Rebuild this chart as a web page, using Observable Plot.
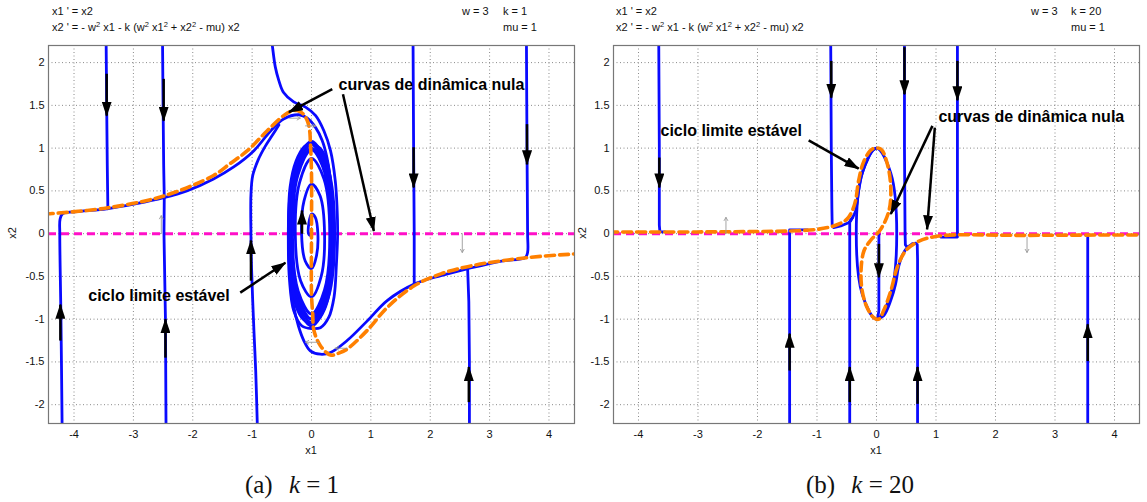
<!DOCTYPE html>
<html><head><meta charset="utf-8">
<script src="https://cdn.jsdelivr.net/npm/d3@7"></script>
<script src="https://cdn.jsdelivr.net/npm/@observablehq/plot@0.6"></script>
<style>
body{margin:0;background:#fff;}
#root{position:relative;width:1147px;height:502px;overflow:hidden;font-family:"Liberation Sans",Arial,sans-serif;color:#111;}
.t{position:absolute;font-size:11px;line-height:13px;white-space:nowrap;}
.t sup{font-size:7.5px;line-height:0;vertical-align:4px;}
.ax{position:absolute;font-size:11px;line-height:13px;white-space:nowrap;}
.rot{transform:translate(-50%,-50%) rotate(-90deg);}
.cap{position:absolute;font-family:"Liberation Serif","DejaVu Serif",serif;font-size:25px;white-space:nowrap;transform:translateX(-50%);}
.cap i{margin-left:10px;}
#pa,#pb{position:absolute;top:40px;}
#pa{left:0}
#pb{left:580px}
svg{overflow:visible}
</style></head><body><div id="root">
<div class="t" style="left:52px;top:5px">x1 ' = x2</div>
<div class="t" style="left:52px;top:21px">x2 ' = - w<sup>2</sup> x1 - k (w<sup>2</sup> x1<sup>2</sup> + x2<sup>2</sup> - mu) x2</div>
<div class="t" style="left:462px;top:5px">w = 3</div>
<div class="t" style="left:503px;top:5px">k = 1</div>
<div class="t" style="left:503px;top:21px">mu = 1</div>
<div class="t" style="left:616px;top:5px">x1 ' = x2</div>
<div class="t" style="left:616px;top:21px">x2 ' = - w<sup>2</sup> x1 - k (w<sup>2</sup> x1<sup>2</sup> + x2<sup>2</sup> - mu) x2</div>
<div class="t" style="left:1031px;top:5px">w = 3</div>
<div class="t" style="left:1071px;top:5px">k = 20</div>
<div class="t" style="left:1071px;top:21px">mu = 1</div>
<div id="pa"></div>
<div id="pb"></div>
<div class="ax" style="left:311px;top:444px;transform:translateX(-50%)">x1</div>
<div class="ax" style="left:876px;top:444px;transform:translateX(-50%)">x1</div>
<div class="ax rot" style="left:12px;top:233px;position:absolute">x2</div>
<div class="ax rot" style="left:582px;top:233px;position:absolute">x2</div>
<div class="cap" style="left:292px;top:471px">(a) <i>k</i> = 1</div>
<div class="cap" style="left:860px;top:471px">(b) <i>k</i> = 20</div>
</div>
<script>
// ---------- ticks ----------
const X_TICKS = [-4, -3, -2, -1, 0, 1, 2, 3, 4];
const Y_TICKS = [-2, -1.5, -1, -0.5, 0, 0.5, 1, 1.5, 2];

// ---------- panel (a): k = 1 ----------
const A_left1 = [[-3.46,2.3],[-3.45,1.5],[-3.44,0.8],[-3.43,0.29]];
const A_left2 = [[-2.51,2.3],[-2.50,1.5],[-2.49,0.8],[-2.48,0.42]];
const A_left2b = [[-2.45,-2.3],[-2.46,-1.0],[-2.485,0.0],[-2.48,0.42]];
const A_mid1 = [[1.71,2.3],[1.72,1.0],[1.73,0.0],[1.73,-0.59]];
const A_right2 = [[2.66,-2.3],[2.66,-1.5],[2.65,-0.8],[2.63,-0.41]];
const A_manifoldUp = [[-4.20,-2.3],[-4.22,-1.0],[-4.24,0.0],[-4.235,0.17],[-4.19,0.235],[-3.9,0.26],[-3.45,0.29],[-2.95,0.35],[-2.49,0.42],[-2.10,0.50],[-1.65,0.64],[-1.31,0.78],[-0.97,0.97],[-0.69,1.20],[-0.47,1.34],[-0.21,1.39],[-0.07,1.35],[0.07,1.24],[0.18,1.09],[0.26,0.89],[0.33,0.55],[0.36,0.0],[0.33,-0.55],[0.24,-0.85],[0.12,-1.0],[0.0,-1.05],[-0.14,-1.0],[-0.26,-0.85],[-0.34,-0.5],[-0.36,0.0]];
const A_fromBottom = [[-0.91,-2.3],[-0.94,-1.6],[-0.97,-1.13],[-1.01,-0.4],[-1.02,0.0],[-1.02,0.45],[-0.99,0.68],[-0.90,0.86],[-0.78,1.02],[-0.66,1.15],[-0.55,1.27]];
const A_fromTop = [[-0.68,2.3],[-0.66,2.2],[-0.61,1.95],[-0.55,1.79],[-0.47,1.65],[-0.30,1.54],[-0.10,1.48],[0.07,1.38],[0.21,1.20],[0.32,0.97],[0.40,0.62],[0.43,0.31],[0.44,0.0],[0.42,-0.35],[0.38,-0.74],[0.29,-0.98],[0.15,-1.10],[0.01,-1.11],[-0.16,-1.08],[-0.30,-0.90],[-0.37,-0.55],[-0.39,0.0],[-0.36,0.55],[-0.26,0.85],[-0.12,1.02],[0.02,1.07]];
const A_manifoldDown = [[3.62,2.3],[3.63,1.0],[3.64,0.0],[3.64,-0.22],[3.60,-0.28],[3.2,-0.32],[2.63,-0.41],[2.18,-0.49],[1.73,-0.59],[1.28,-0.78],[0.94,-1.02],[0.60,-1.25],[0.32,-1.39],[0.15,-1.41],[-0.02,-1.37],[-0.13,-1.25],[-0.22,-1.08],[-0.30,-0.85],[-0.36,-0.5],[-0.38,0.0],[-0.34,0.55],[-0.24,0.85],[-0.12,1.0],[0.0,1.05],[0.14,1.0],[0.26,0.85],[0.34,0.5],[0.36,0.0]];
const A_spiral = [[0.0,-0.02],[-0.03,-0.02],[-0.05,0.0],[-0.045,0.12],[0.0,0.23],[0.064,0.19],[0.107,0.0],[0.085,-0.255],[0.0,-0.41],[-0.106,-0.32],[-0.167,0.0],[-0.127,0.38],[0.0,0.58],[0.146,0.44],[0.22,0.0],[0.165,-0.495],[0.0,-0.74],[-0.184,-0.55],[-0.273,0.0],[-0.20,0.60],[0.0,0.88],[0.212,0.636],[0.307,0.0],[0.219,-0.658],[0.0,-0.94],[-0.224,-0.672],[-0.32,0.0],[-0.229,0.686],[0.0,0.98],[0.23,0.7],[0.325,0.0],[0.23,-0.7],[0.0,-0.99]];
const A_cycle1 = [[0,1.0],[0.237,0.707],[0.335,0],[0.237,-0.707],[0,-1.0],[-0.237,-0.707],[-0.335,0],[-0.237,0.707]];
const A_cycle2 = [[0,1.04],[0.255,0.735],[0.36,0],[0.255,-0.735],[0,-1.04],[-0.255,-0.735],[-0.36,0],[-0.255,0.735]];
const A_cycle3 = [[0,1.08],[0.276,0.764],[0.39,0],[0.276,-0.764],[0,-1.08],[-0.276,-0.764],[-0.39,0],[-0.276,0.764]];
const A_nullcline = [[-4.5,0.23],[-4.37,0.235],[-3.45,0.30],[-2.49,0.44],[-1.65,0.68],[-1.37,0.82],[-1.08,0.97],[-0.75,1.20],[-0.47,1.38],[-0.35,1.43],[-0.24,1.44],[-0.14,1.40],[-0.07,1.32],[-0.03,1.20],[-0.02,1.09],[0,0.7],[0,0],[0,-0.7],[0.02,-0.94],[0.04,-1.13],[0.15,-1.31],[0.32,-1.42],[0.45,-1.40],[0.60,-1.35],[0.94,-1.13],[1.28,-0.86],[1.73,-0.61],[2.18,-0.47],[2.74,-0.37],[3.64,-0.28],[4.37,-0.24],[4.5,-0.235]];
const A_arrows = [[-3.45,1.87,-3.45,1.38],[-2.49,1.81,-2.49,1.32],[1.72,1.01,1.72,0.54],[3.63,1.28,3.63,0.81],[-4.23,-1.25,-4.23,-0.83],[-2.46,-1.45,-2.46,-1.0],[-1.02,-0.55,-1.02,-0.08],[2.65,-1.97,2.65,-1.56],[-0.16,0.0,-0.16,0.27]];
const A_grey = [[-2.53,0,-2.53,0.21],[2.54,0,2.54,-0.22],[-0.37,1.35,-0.19,1.35],[-0.1,1.26,0.07,1.26],[0.12,-1.27,-0.1,-1.27],[0.6,-1.34,0.4,-1.34]];
const A_labels = [["curvas de dinâmica nula",0.455,1.74],["ciclo limite estável",-3.76,-0.73]];
const A_labelArrows = [[0.35,1.69,-0.38,1.42],[0.53,1.63,1.05,0.03],[-1.2,-0.69,-0.44,-0.34]];

// ---------- panel (b): k = 20 ----------
const B_t1 = [[-3.66,2.3],[-3.65,1.0],[-3.65,0.1],[-3.64,0.02],[-3.56,0.02]];
const B_t2 = [[-0.77,2.3],[-0.76,1.0],[-0.75,0.3],[-0.745,0.1],[-0.72,0.07],[-0.60,0.09],[-0.46,0.13],[-0.40,0.19]];
const B_t3 = [[0.47,2.3],[0.47,1.0],[0.48,0.0],[0.485,-0.13],[0.52,-0.16]];
const B_t4 = [[1.36,2.3],[1.36,1.0],[1.36,0.1],[1.36,-0.04],[1.08,-0.04]];
const B_t5 = [[0.69,-2.3],[0.69,-1.0],[0.69,-0.3],[0.685,-0.13],[0.66,-0.11],[0.60,-0.12]];
const B_t6 = [[-0.45,-2.3],[-0.45,-1.0],[-0.45,0.0],[-0.45,0.13],[-0.43,0.16]];
const B_t7 = [[-1.46,-2.3],[-1.46,-1.0],[-1.46,0.0],[-1.46,0.045],[-1.16,0.045]];
const B_t8 = [[3.55,-2.3],[3.55,-1.0],[3.55,-0.03],[3.52,-0.02]];
const B_t9 = [[0.04,0.0],[0.04,-0.5],[0.04,-0.9],[0.02,-0.99]];
const B_slideUp = [[-0.46,0.13],[-0.40,0.19],[-0.35,0.27],[-0.30,0.5],[-0.25,0.68],[-0.18,0.82],[-0.07,0.97],[0.0,1.0]];
const B_slideDown = [[0.60,-0.12],[0.52,-0.16],[0.43,-0.26],[0.37,-0.39],[0.32,-0.59],[0.24,-0.78],[0.12,-0.96],[0.0,-1.0]];
const B_cycle = [[0,1.0],[0.24,0.707],[0.34,0],[0.24,-0.707],[0,-1.0],[-0.24,-0.707],[-0.34,0],[-0.24,0.707]];
const B_nullcline = [[-4.5,0.02],[-3.0,0.02],[-2.0,0.025],[-1.5,0.03],[-1.0,0.05],[-0.72,0.09],[-0.55,0.14],[-0.47,0.19],[-0.40,0.28],[-0.35,0.39],[-0.30,0.62],[-0.21,0.85],[-0.07,0.99],[0.07,0.99],[0.18,0.82],[0.24,0.54],[0.21,0.27],[0.07,0.05],[-0.10,-0.08],[-0.21,-0.2],[-0.26,-0.43],[-0.24,-0.67],[-0.16,-0.86],[-0.05,-0.98],[0.04,-1.0],[0.12,-0.9],[0.24,-0.67],[0.35,-0.39],[0.49,-0.2],[0.68,-0.1],[1.02,-0.03],[2.5,-0.02],[4.5,-0.015]];
const B_arrows = [[-3.65,0.89,-3.65,0.54],[-0.76,2.02,-0.76,1.59],[0.47,2.18,0.47,1.63],[1.36,2.02,1.36,1.56],[0.04,-0.12,0.04,-0.51],[-0.45,-1.97,-0.45,-1.56],[-1.46,-1.60,-1.46,-1.17],[0.69,-1.99,0.69,-1.56],[3.55,-1.49,3.55,-1.06]];
const B_grey = [[-2.53,0,-2.53,0.19],[2.53,-0.04,2.53,-0.22]];
const B_labels = [["ciclo limite estável",-3.63,1.20],["curvas de dinâmica nula",1.04,1.36]];
const B_labelArrows = [[-1.14,1.09,-0.30,0.76],[0.94,1.26,0.24,0.23],[0.98,1.24,0.85,0.05]];

// ---------- styling ----------
const BLUE = "#0a0aff", ORANGE = "#ff8000", MAGENTA = "#ff10c8";
const SVGNS = "http://www.w3.org/2000/svg";
function headMarker(color, context) {
  const doc = (context && context.document) || document;
  const m = doc.createElementNS(SVGNS, "marker");
  m.setAttribute("viewBox", "-14 -5 15 10");
  m.setAttribute("markerWidth", "15");
  m.setAttribute("markerHeight", "10");
  m.setAttribute("markerUnits", "userSpaceOnUse");
  m.setAttribute("orient", "auto");
  m.setAttribute("refX", "0");
  m.setAttribute("refY", "0");
  const p = doc.createElementNS(SVGNS, "path");
  p.setAttribute("d", "M-14,-5L1,0L-14,5Z");
  p.setAttribute("fill", color);
  p.setAttribute("stroke", "none");
  m.appendChild(p);
  return m;
}
const rows = (list) => list.flatMap((pts, i) => pts.map(([x, y]) => ({x, y, id: i})));
const segs = (list) => list.map(([x1, y1, x2, y2]) => ({x1, y1, x2, y2}));

function panel({xDomain, width, marginLeft, marginRight, smooth, sharp, loops, nullcline, arrows, grey, labels, labelArrows}) {
  return Plot.plot({
    width, height: 420, marginTop: 5, marginBottom: 37, marginLeft, marginRight,
    x: {domain: xDomain}, y: {domain: [-2.22, 2.2]},
    style: {fontFamily: "Liberation Sans, Arial, sans-serif", fontSize: "11px", color: "#111", background: "transparent", overflow: "visible"},
    marks: [
      Plot.gridX({ticks: X_TICKS, stroke: "#8a8a8a", strokeOpacity: 1, strokeDasharray: "1,2.5"}),
      Plot.gridY({ticks: Y_TICKS, stroke: "#8a8a8a", strokeOpacity: 1, strokeDasharray: "1,2.5"}),
      Plot.axisX({ticks: X_TICKS, tickSize: 0, tickPadding: 7, label: null, fontSize: 11, tickFormat: d => String(d)}),
      Plot.axisY({ticks: Y_TICKS, tickSize: 0, tickPadding: 4, label: null, fontSize: 11, tickFormat: d => String(d)}),
      Plot.ruleY([0], {stroke: MAGENTA, strokeWidth: 3, strokeDasharray: "8,5"}),
      Plot.line(rows(smooth), {x: "x", y: "y", z: "id", stroke: BLUE, strokeWidth: 2.8, curve: "catmull-rom", clip: true}),
      Plot.line(rows(sharp), {x: "x", y: "y", z: "id", stroke: BLUE, strokeWidth: 2.8, curve: "linear", clip: true}),
      Plot.line(rows(loops), {x: "x", y: "y", z: "id", stroke: BLUE, strokeWidth: 2.8, curve: "catmull-rom-closed", clip: true}),
      Plot.line(rows([nullcline]), {x: "x", y: "y", stroke: ORANGE, strokeWidth: 3.6, strokeDasharray: "9,5", curve: "catmull-rom", clip: true}),
      Plot.arrow(segs(grey), {x1: "x1", y1: "y1", x2: "x2", y2: "y2", stroke: "#9a9a9a", strokeWidth: 0.9, headLength: 6}),
      Plot.link(segs(arrows), {x1: "x1", y1: "y1", x2: "x2", y2: "y2", stroke: "#000", strokeWidth: 2.5, markerEnd: headMarker}),
      Plot.link(segs(labelArrows), {x1: "x1", y1: "y1", x2: "x2", y2: "y2", stroke: "#000", strokeWidth: 2.5, markerEnd: headMarker}),
      Plot.text(labels, {x: d => d[1], y: d => d[2], text: d => d[0], textAnchor: "start", fontWeight: "bold", fontSize: 16, fill: "#000"}),
      Plot.frame({stroke: "#777", strokeWidth: 1.2})
    ]
  });
}

document.getElementById("pa").append(panel({
  xDomain: [-4.43, 4.43], width: 580, marginLeft: 48, marginRight: 6,
  smooth: [A_manifoldUp, A_fromBottom, A_fromTop, A_manifoldDown, A_spiral],
  sharp: [A_left1, A_left2, A_left2b, A_mid1, A_right2],
  loops: [A_cycle1, A_cycle2, A_cycle3],
  nullcline: A_nullcline, arrows: A_arrows, grey: A_grey, labels: A_labels, labelArrows: A_labelArrows
}));
document.getElementById("pb").append(panel({
  xDomain: [-4.42, 4.42], width: 567, marginLeft: 33, marginRight: 8,
  smooth: [B_slideUp, B_slideDown],
  sharp: [B_t1, B_t2, B_t3, B_t4, B_t5, B_t6, B_t7, B_t8, B_t9],
  loops: [B_cycle],
  nullcline: B_nullcline, arrows: B_arrows, grey: B_grey, labels: B_labels, labelArrows: B_labelArrows
}));
</script>
</body></html>
